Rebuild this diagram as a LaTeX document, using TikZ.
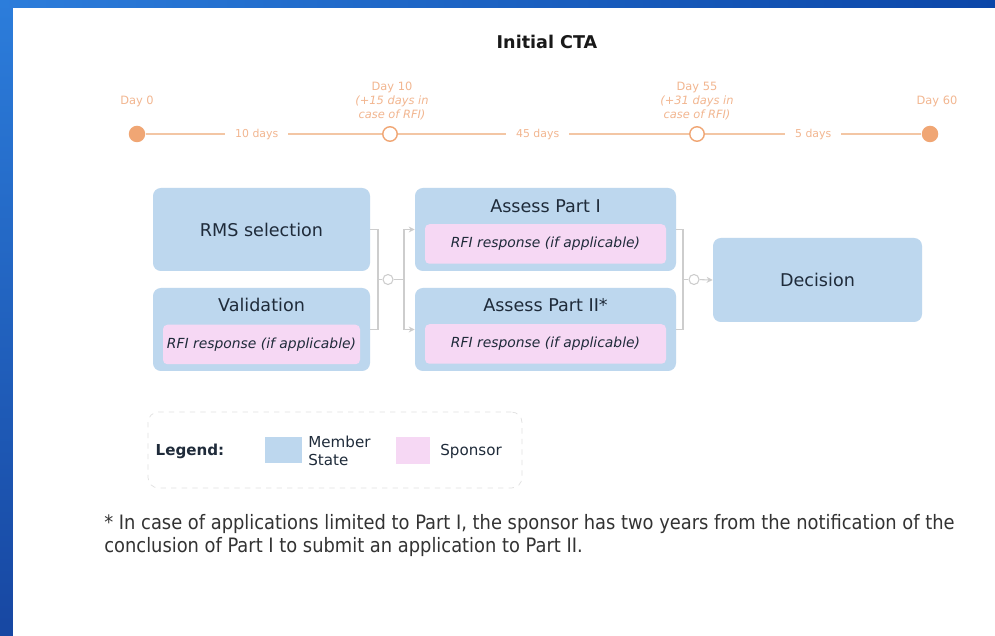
\documentclass[tikz,border=0pt]{standalone}
\usepackage{fontspec}
\setmainfont{DejaVu Sans}
\newfontfamily\notefont{DejaVu Sans Condensed}
\usetikzlibrary{arrows.meta}

\definecolor{msblue}{HTML}{BDD7EE}
\definecolor{sppink}{HTML}{F6D8F4}
\definecolor{tldot}{HTML}{F0A674}
\definecolor{tlline}{HTML}{F3C6A4}
\definecolor{tltext}{HTML}{F2B690}
\definecolor{ink}{HTML}{1F2B3A}
\definecolor{linkgray}{HTML}{CDCDCD}
\definecolor{frameA}{HTML}{2C7DDB}
\definecolor{frameB}{HTML}{1747A2}
\definecolor{frameC}{HTML}{0B46A8}

\begin{document}
\begin{tikzpicture}[>={Stealth[length=1.2mm, width=1.2mm]}, every node/.style={align=center, text=ink},
  msbox/.style={fill=msblue, rounded corners=4.5pt, minimum width=4.34cm, minimum height=1.66cm, inner sep=0pt},
  rfibox/.style={fill=sppink, rounded corners=2.5pt, minimum height=0.79cm, inner sep=0pt,
    font=\fontsize{7.9}{9}\selectfont\itshape},
  boxtitle/.style={font=\fontsize{10}{12}\selectfont},
  milestone/.style={circle, fill=tldot, minimum size=0.33cm, inner sep=0pt},
  hollow/.style={circle, draw=tldot, line width=0.8pt, fill=white, minimum size=0.29cm, inner sep=0pt},
  tl/.style={draw=tlline, line width=0.9pt},
  span/.style={fill=white, inner xsep=0.2cm, inner ysep=1pt, text=tltext, font=\fontsize{6.2}{7}\selectfont},
  daytag/.style={text=tltext, font=\fontsize{6.5}{8}\selectfont},
  link/.style={draw=linkgray, line width=0.6pt},
  joint/.style={circle, draw=linkgray, line width=0.6pt, fill=white, minimum size=0.2cm, inner sep=0pt},
  legendtext/.style={font=\fontsize{8.6}{10.2}\selectfont}]
  \useasboundingbox (0,0) rectangle (19.9,12.7);
  % slide frame and white panel
  \fill[top color=frameA, bottom color=frameB] (0,0) rectangle (19.9,12.7);
  \fill[left color=frameA, right color=frameC] (0,12.54) rectangle (19.9,12.7);
  \fill[white] (0.26,-0.1) rectangle (20,12.54);

  \node[font=\fontsize{10}{12}\selectfont\bfseries, text=black!90] (title) at (10.94,11.86) {Initial CTA};

  % timeline
  \node[milestone] (d0)  at (2.74,10.02)  {};
  \node[hollow]    (d10) at (7.80,10.02)  {};
  \node[hollow]    (d55) at (13.94,10.02) {};
  \node[milestone] (d60) at (18.60,10.02) {};
  \draw[tl] (d0)  -- node[span, pos=0.47] {10 days} (d10);
  \draw[tl] (d10) -- node[span, pos=0.48] {45 days} (d55);
  \draw[tl] (d55) -- node[span] {5 days} (d60);
  \node[daytag] (t0)  at (2.74,10.68)  {Day 0};
  \node[daytag] (t10) at (7.84,10.68)  {Day 10\\\textit{(+15 days in}\\\textit{case of RFI)}};
  \node[daytag] (t55) at (13.94,10.68) {Day 55\\\textit{(+31 days in}\\\textit{case of RFI)}};
  \node[daytag] (t60) at (18.74,10.68) {Day 60};

  % process boxes
  \node[msbox, boxtitle] (rms) at (5.23,8.11) {RMS selection};
  \node[msbox] (val) at (5.23,6.11) {};
  \node[boxtitle] (valT) at (5.23,6.60) {Validation};
  \node[rfibox, minimum width=3.94cm] (valR) at (5.23,5.81) {RFI response (if applicable)};
  \node[msbox, minimum width=5.22cm] (ap1) at (10.91,8.11) {};
  \node[boxtitle] (ap1T) at (10.91,8.58) {Assess Part I};
  \node[rfibox, minimum width=4.82cm] (ap1R) at (10.91,7.82) {RFI response (if applicable)};
  \node[msbox, minimum width=5.22cm] (ap2) at (10.91,6.11) {};
  \node[boxtitle] (ap2T) at (10.91,6.60) {Assess Part II*};
  \node[rfibox, minimum width=4.82cm] (ap2R) at (10.91,5.82) {RFI response (if applicable)};
  \node[msbox, boxtitle, minimum width=4.18cm, minimum height=1.68cm] (dec) at (16.35,7.10) {Decision};

  % connectors
  \coordinate (j1in) at (7.56,7.11);
  \node[joint] (j1) at (7.76,7.11) {};
  \coordinate (s1) at (8.08,7.11);
  \draw[link] (rms.east) -| (j1in) |- (val.east);
  \draw[link] (j1in) -- (j1) -- (s1);
  \draw[link, ->] (s1) |- (ap1.west);
  \draw[link, ->] (s1) |- (ap2.west);
  \coordinate (j2in) at (13.66,7.11);
  \node[joint] (j2) at (13.88,7.11) {};
  \draw[link] (ap1.east) -| (j2in) |- (ap2.east);
  \draw[link] (j2in) -- (j2);
  \draw[link, ->] (j2) -- (dec.west);

  % legend
  \node[draw=black!12, dashed, rounded corners=6pt, minimum width=7.48cm, minimum height=1.52cm] (legend) at (6.70,3.70) {};
  \node[legendtext, font=\fontsize{8.6}{10.2}\selectfont\bfseries] (legT) at (3.80,3.68) {Legend:};
  \node[fill=msblue, minimum width=0.74cm, minimum height=0.52cm, inner sep=0pt] (swMS) at (5.67,3.70) {};
  \node[legendtext, anchor=west, align=left, inner sep=0pt] (lMS) at (6.16,3.68) {Member\\State};
  \node[fill=sppink, minimum width=0.68cm, minimum height=0.54cm, inner sep=0pt] (swSp) at (8.26,3.69) {};
  \node[legendtext, anchor=west, inner sep=0pt] (lSp) at (8.80,3.68) {Sponsor};

  % footnote
  \node[anchor=north west, align=left, inner sep=0pt, text=black!80, font=\notefont\fontsize{11.3}{13.1}\selectfont] (note) at (2.08,2.41)
    {* In case of applications limited to Part I, the sponsor has two years from the notification of the\\
     conclusion of Part I to submit an application to Part II.};
\end{tikzpicture}
\end{document}
